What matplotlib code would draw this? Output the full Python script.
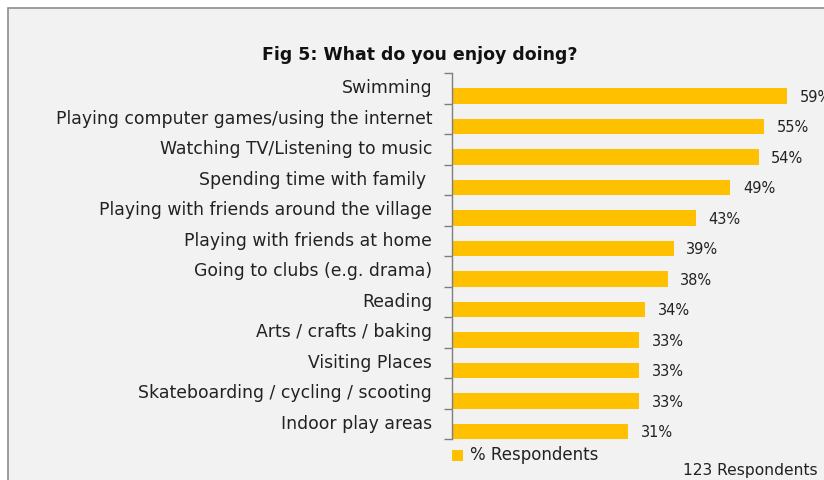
import matplotlib.pyplot as plt
from matplotlib.patches import Rectangle

activities = [
    "Swimming",
    "Playing computer games/using the internet",
    "Watching TV/Listening to music",
    "Spending time with family ",
    "Playing with friends around the village",
    "Playing with friends at home",
    "Going to clubs (e.g. drama)",
    "Reading",
    "Arts / crafts / baking",
    "Visiting Places",
    "Skateboarding / cycling / scooting",
    "Indoor play areas",
]
percent = [59, 55, 54, 49, 43, 39, 38, 34, 33, 33, 33, 31]
series_name = "% Respondents"
note = "123 Respondents"

W, H = 824, 480
bar_color = "#FFC000"
bg = "#f2f2f2"
text_color = "#222222"
font = "DejaVu Sans"

fig = plt.figure(figsize=(W / 100, H / 100), dpi=100)
fig.patch.set_facecolor("white")

# chart area frame, runs off the right and bottom edges
fig.patches.append(Rectangle((8 / W, -0.05), 1.0, 1 - 8 / H + 0.05,
                             transform=fig.transFigure, facecolor=bg,
                             edgecolor="#8c8c8c", linewidth=1.2, zorder=-5))

ax = fig.add_axes([452 / W, (H - 439) / H, (W - 452) / W, (439 - 73) / H])
ax.set_facecolor("none")

n = len(activities)
# bars sit in the lower half of each category slot
pos = [i + 0.25 for i in range(n)]
ax.barh(pos, percent, height=0.5, color=bar_color, zorder=2)
for p, v in zip(pos, percent):
    ax.text(v + 2.2, p + 0.05, f"{v}%", va="center", ha="left",
            fontsize=10.5, family=font, color=text_color, clip_on=False)

ax.set_ylim(n - 0.5, -0.5)
ax.set_xlim(0, (W - 452) / 5.68)

for s in ["top", "right", "bottom"]:
    ax.spines[s].set_visible(False)
ax.spines["left"].set_color("#7f7f7f")
ax.spines["left"].set_linewidth(1)
ax.set_xticks([])

ax.set_yticks([i - 0.5 for i in range(n + 1)])
ax.set_yticklabels([])
ax.tick_params(axis="y", length=6, color="#7f7f7f", width=1)
for i, name in enumerate(activities):
    ax.text(-3.5, i, name, ha="right", va="center", fontsize=12.4,
            family=font, color=text_color)

fig.text(420 / W, 1 - 55 / H, "Fig 5: What do you enjoy doing?", ha="center",
         va="center", fontsize=12.5, fontweight="bold", family=font, color="#111111")

# legend
fig.patches.append(Rectangle((452 / W, 1 - 461 / H), 11 / W, 11 / H,
                             transform=fig.transFigure, facecolor=bar_color,
                             edgecolor="none"))
fig.text(470 / W, 1 - 455 / H, series_name, ha="left", va="center",
         fontsize=12, family=font, color=text_color)
fig.text(818 / W, 1 - 470 / H, note, ha="right", va="center",
         fontsize=11.2, family=font, color=text_color)

fig.savefig("out.png", dpi=100, facecolor=fig.get_facecolor())
